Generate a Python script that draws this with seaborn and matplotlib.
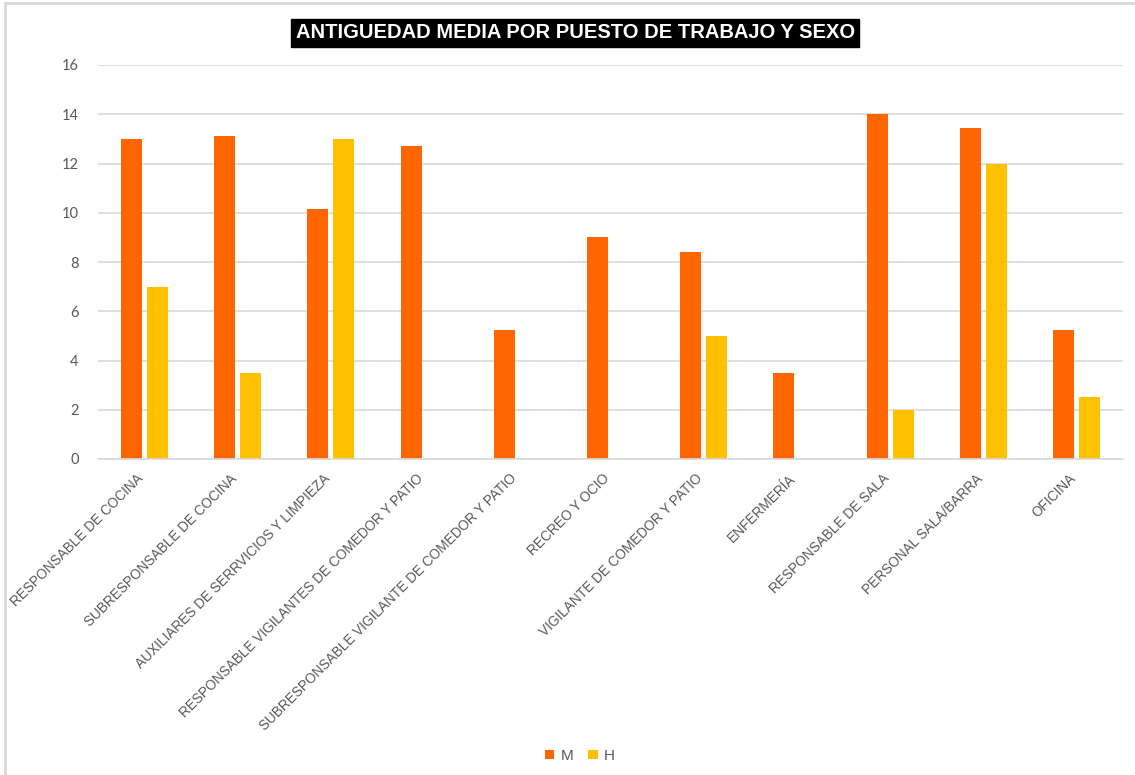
import matplotlib
matplotlib.use("Agg")
import matplotlib.pyplot as plt
import matplotlib.transforms as mtransforms
import seaborn as sns
import pandas as pd
from matplotlib.patches import Rectangle

categories = [
    "RESPONSABLE DE COCINA",
    "SUBRESPONSABLE DE COCINA",
    "AUXILIARES DE SERRVICIOS Y LIMPIEZA",
    "RESPONSABLE VIGILANTES DE COMEDOR Y PATIO",
    "SUBRESPONSABLE VIGILANTE DE COMEDOR Y PATIO",
    "RECREO Y OCIO",
    "VIGILANTE DE COMEDOR Y PATIO",
    "ENFERMERÍA",
    "RESPONSABLE DE SALA",
    "PERSONAL SALA/BARRA",
    "OFICINA",
]
m_values = [13.0, 13.1, 10.15, 12.7, 5.25, 9.0, 8.4, 3.5, 14.0, 13.45, 5.25]
h_values = [7.0, 3.5, 13.0, 0, 0, 0, 5.0, 0, 2.0, 12.0, 2.5]
series = ["M", "H"]
colors = ["#FF6600", "#FFC000"]
yticks = [0, 2, 4, 6, 8, 10, 12, 14, 16]
title = "ANTIGUEDAD MEDIA POR PUESTO DE TRABAJO Y SEXO"

df = pd.DataFrame({
    "puesto": categories * 2,
    "sexo": [series[0]] * len(categories) + [series[1]] * len(categories),
    "valor": m_values + h_values,
})

sns.set_theme(style="white")
plt.rcParams["font.family"] = ["Liberation Sans", "DejaVu Sans"]

fig = plt.figure(figsize=(11.35, 7.75), dpi=100)
ax = fig.add_axes([98 / 1135, 1 - 459 / 775, (1123 - 98) / 1135, (459 - 65) / 775])

sns.barplot(data=df, x="puesto", y="valor", hue="sexo", order=categories,
            hue_order=series, palette=colors, width=0.558, gap=0.19,
            saturation=1, ax=ax, linewidth=0)

ax.set_ylim(0, 16)
ax.set_xlim(-0.5, len(categories) - 0.5)
ax.set_yticks(yticks)
ax.set_yticklabels([str(v) for v in yticks], fontsize=10.5, color="#595959",
                   family=["Lato", "DejaVu Sans"])
ax.yaxis.grid(True, color="#d9d9d9", linewidth=1.2)
ax.set_axisbelow(True)
for s in ["top", "right", "left"]:
    ax.spines[s].set_visible(False)
ax.spines["bottom"].set_color("#d9d9d9")
ax.spines["bottom"].set_linewidth(1.2)
ax.tick_params(axis="both", length=0)
ax.tick_params(axis="y", pad=14)
ax.tick_params(axis="x", pad=9)
ax.set_xlabel("")
ax.set_ylabel("")
ax.set_xticks(range(len(categories)))
ax.set_xticklabels(categories, rotation=45, ha="right", rotation_mode="anchor",
                   fontsize=9.8, color="#595959",
                   family=["Liberation Sans Narrow", "Liberation Sans", "DejaVu Sans"])
shift = mtransforms.ScaledTranslation(-8 / 100, 0, fig.dpi_scale_trans)
for lbl in ax.get_xticklabels():
    lbl.set_transform(lbl.get_transform() + shift)

sns.move_legend(ax, "center", bbox_to_anchor=(0.511, 1 - 756 / 775),
                bbox_transform=fig.transFigure, ncol=2, frameon=False, title=None,
                handlelength=0.6, handleheight=0.6, handletextpad=0.4,
                columnspacing=1.0, fontsize=11)
for t in ax.get_legend().get_texts():
    t.set_color("#595959")

fig.text(0.507, 1 - 33 / 775, title, ha="center", va="center", color="white",
         fontsize=14.5, fontweight="bold",
         family=["Liberation Sans Narrow", "Liberation Sans", "DejaVu Sans"],
         bbox=dict(boxstyle="square,pad=0.22", facecolor="black", edgecolor="black"))

fig.patches.append(Rectangle((5 / 1135, -0.01), 1.0, 1 - 3 / 775 + 0.01,
                             transform=fig.transFigure, fill=False,
                             edgecolor="#d9d9d9", linewidth=2))

fig.savefig("out.png", dpi=100, facecolor="white")
